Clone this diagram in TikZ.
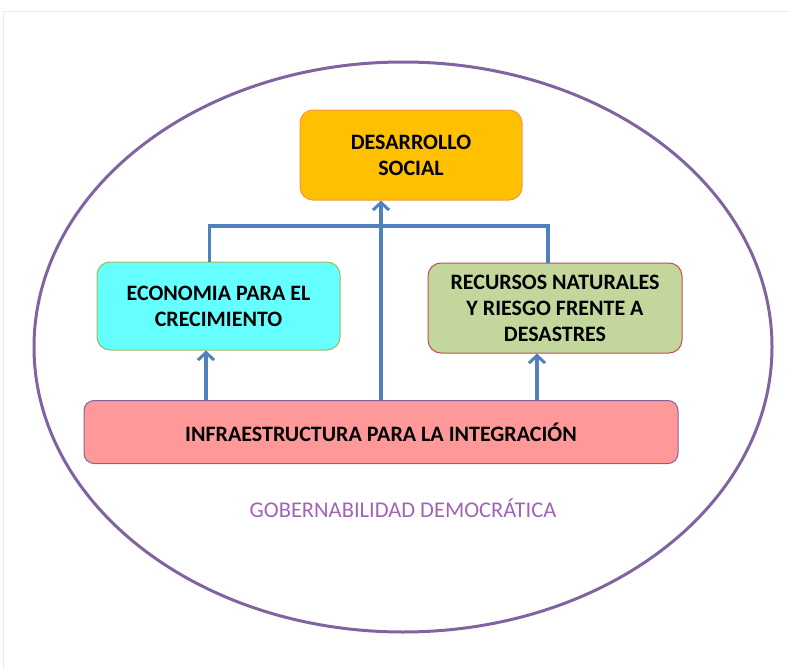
\documentclass[tikz,border=0pt]{standalone}
\usepackage{fontspec}
\setmainfont{Carlito}
\usepackage{tikz}
\usetikzlibrary{arrows.meta}
\definecolor{naranja}{HTML}{FFC000}
\definecolor{naranjaborde}{HTML}{F79646}
\definecolor{celeste}{HTML}{66FFFF}
\definecolor{verdeborde}{HTML}{9BBB59}
\definecolor{oliva}{HTML}{C3D69B}
\definecolor{rojoborde}{HTML}{C0504D}
\definecolor{rosa}{HTML}{FF9999}
\definecolor{morado}{HTML}{8064A2}
\definecolor{lila}{HTML}{A064B4}
\definecolor{azul}{HTML}{4F81BD}
\tikzstyle{box} = [draw, rounded corners=13pt, line width=1pt, align=center, inner sep=0pt, font=\fontsize{22}{26}\selectfont\bfseries]
\tikzstyle{line} = [azul, line width=3.2pt]
\tikzstyle{arrow} = [line, -{Straight Barb[length=7.5pt, width=16pt, line width=3pt]}]

\begin{document}
\begin{tikzpicture}[x=1pt, y=-1pt]
	\useasboundingbox (0,0) rectangle (790,669);
	\draw[black!8, line width=1pt] (3,669) -- (3,12) -- (790,12);
	\draw[morado, line width=3pt] (403,347) ellipse [x radius=369, y radius=285];
	\node[box, fill=naranja, draw=naranjaborde, minimum width=222pt, minimum height=90pt](desarrollo) at (411,155){DESARROLLO\\SOCIAL};
	\node[box, fill=celeste, draw=verdeborde, minimum width=243pt, minimum height=88pt](economia) at (218.5,306){ECONOMIA PARA EL\\CRECIMIENTO};
	\node[box, fill=oliva, draw=rojoborde, minimum width=254pt, minimum height=90pt](recursos) at (555,308){RECURSOS NATURALES\\Y RIESGO FRENTE A\\DESASTRES};
	\node[box, fill=rosa, draw=morado, rounded corners=10pt, minimum width=594pt, minimum height=63pt](infra) at (381,432){INFRAESTRUCTURA PARA LA INTEGRACIÓN};
	\node[lila, font=\fontsize{22.5}{26}\selectfont](gober) at (403,508){GOBERNABILIDAD DEMOCRÁTICA};
	\coordinate (hub) at (381,226);
	\draw[line] ([xshift=-9pt]economia.north) |- ([xshift=-7pt]recursos.north |- hub) -- ([xshift=-7pt]recursos.north);
	\draw[arrow](infra.north) -- (infra.north |- desarrollo.south);
	\draw[arrow]([xshift=-12.5pt]economia.south |- infra.north) -- ([xshift=-12.5pt]economia.south);
	\draw[arrow]([xshift=-18pt]recursos.south |- infra.north) -- ([xshift=-18pt]recursos.south);
\end{tikzpicture}
\end{document}
